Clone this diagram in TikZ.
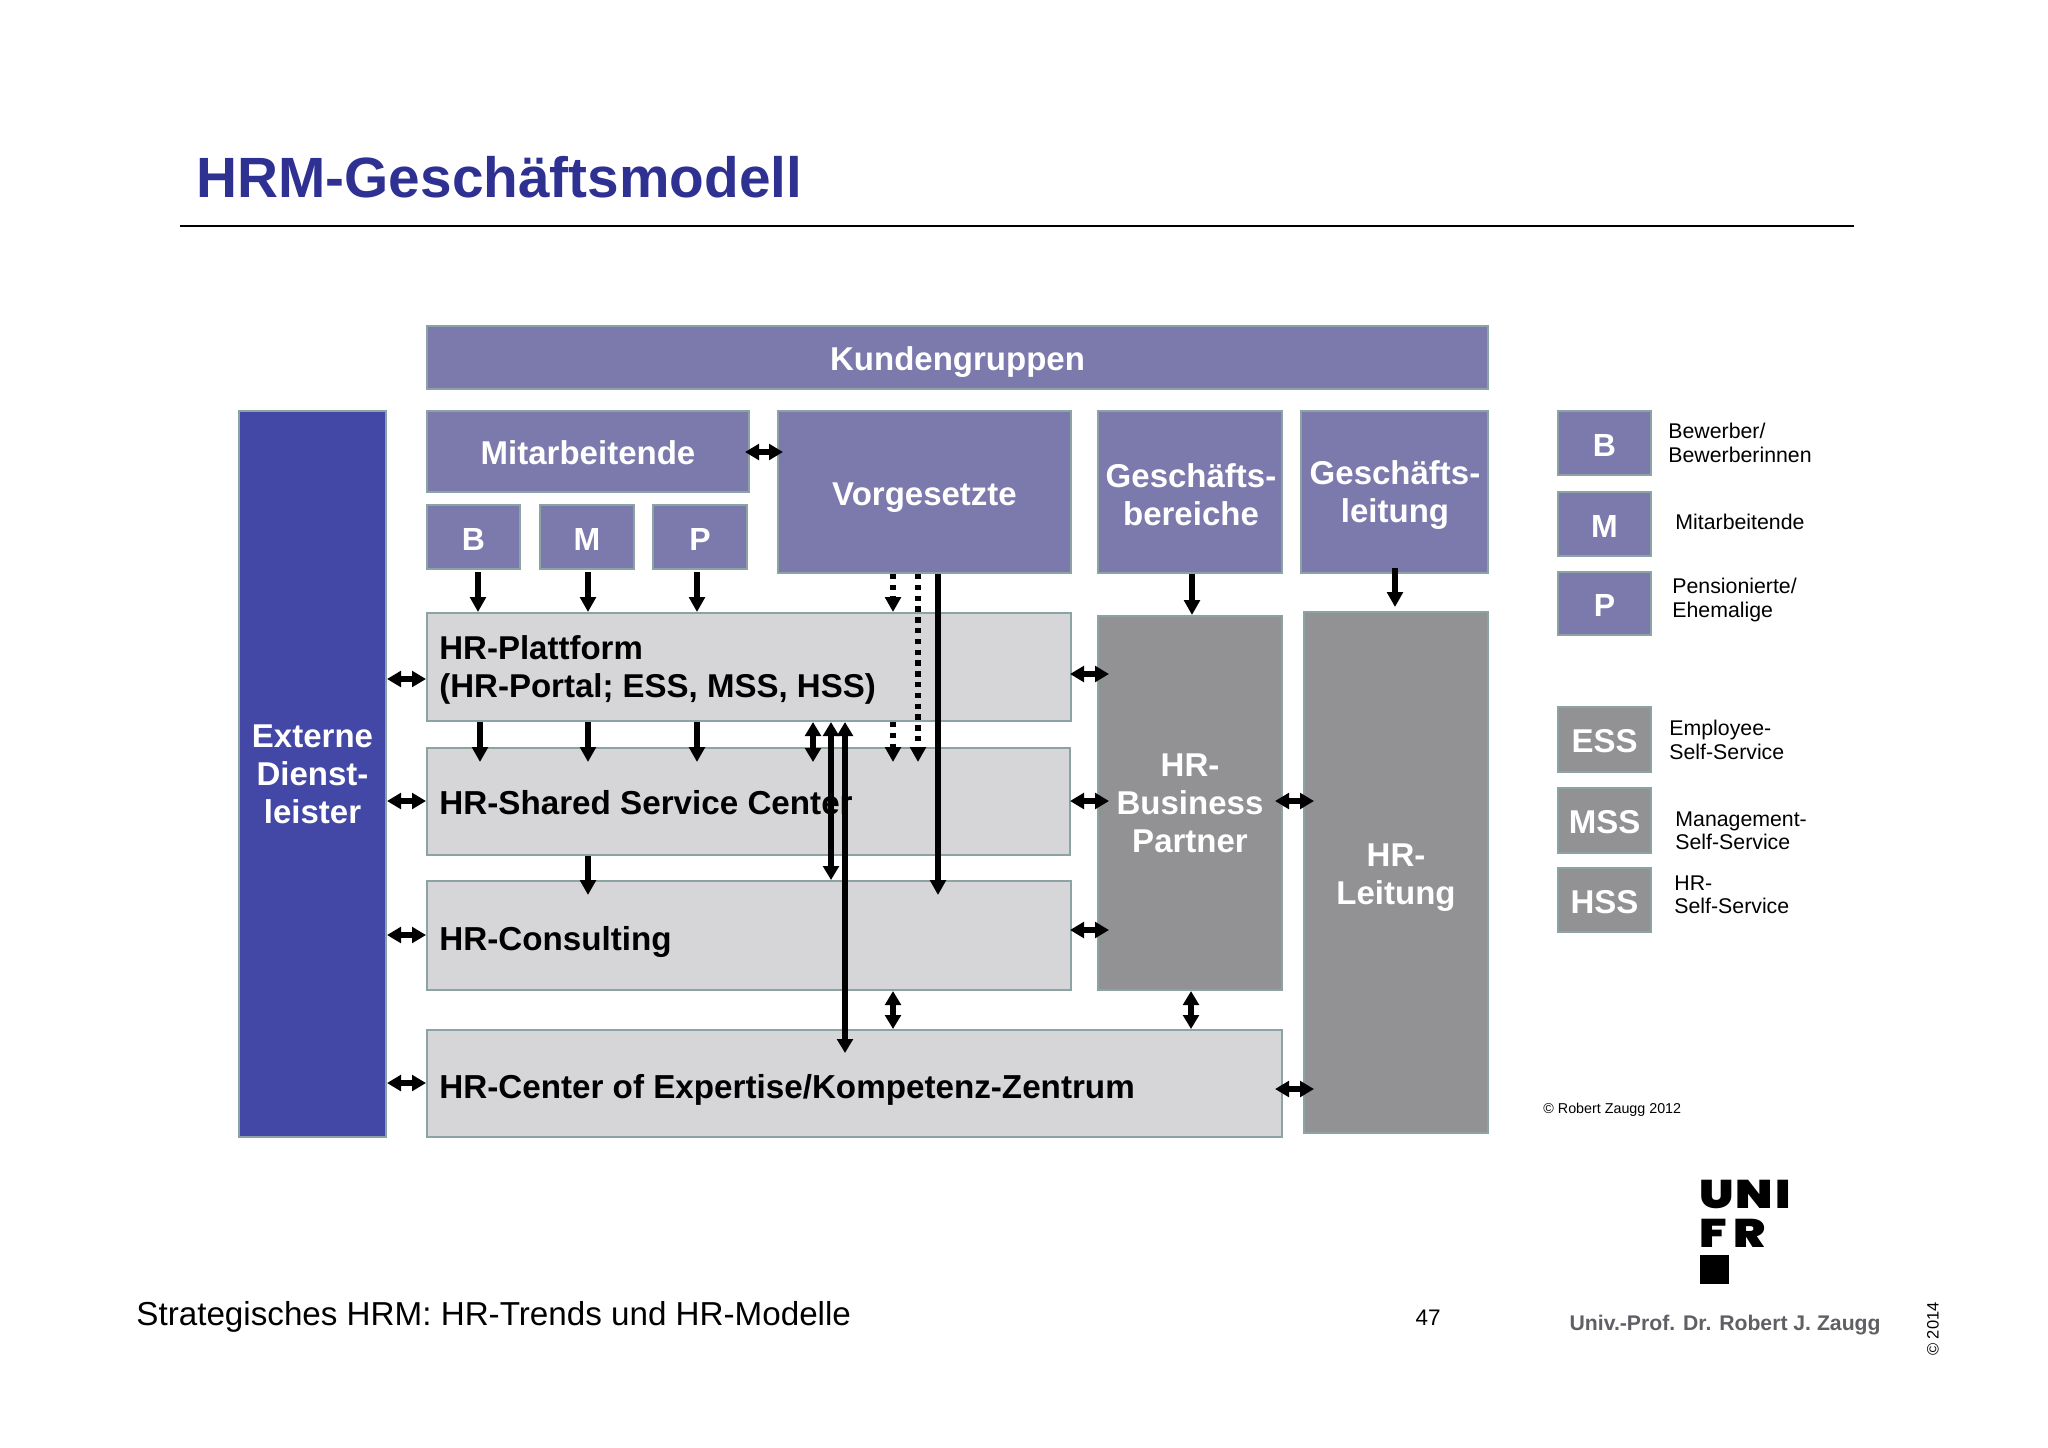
\documentclass[tikz,border=0pt]{standalone}
\usepackage{fontspec}
\setmainfont{Liberation Sans}
\usetikzlibrary{arrows.meta}
\newfontfamily\logofont[FakeStretch=1.2]{Poppins Black}
\definecolor{vio}{HTML}{7C79AC}
\definecolor{blu}{HTML}{4347A6}
\definecolor{lgr}{HTML}{D6D6D9}
\definecolor{dgr}{HTML}{929193}
\definecolor{edge}{HTML}{8CA3A3}
\definecolor{ttl}{HTML}{2E3192}
\definecolor{aut}{HTML}{5F5F64}
\newcommand{\px}[1]{\fontsize{\dimexpr#1pt*1/2\relax}{\dimexpr#1pt*23/40\relax}\selectfont}
\newcommand{\bx}[7]{\node[#6,minimum width={(#4-#2)*0.5pt-1.2pt},minimum height={(#5-#3)*0.5pt-1.2pt},anchor=center] (#1) at ({(#2+#4)/2},{(#3+#5)/2}) {#7};}
\tikzset{
 x=0.5pt,y=-0.5pt,
 base/.style={draw=edge,line width=1.2pt,inner sep=0pt,outer sep=0.6pt,align=center},
 sl/.style={text height=13.4pt,text depth=0pt},
 vbox/.style={base,fill=vio,text=white,font=\bfseries\px{33}},
 lbox/.style={base,fill=vio,text=white,font=\bfseries\px{32},sl},
 bluebox/.style={base,fill=blu,text=white,font=\bfseries\px{33}},
 gbox/.style={base,fill=lgr,text=black},
 dbox/.style={base,fill=dgr,text=white,font=\bfseries\px{33}},
 dsbox/.style={base,fill=dgr,text=white,font=\bfseries\px{33},sl},
 gt/.style={inner sep=0pt,anchor=base west,font=\bfseries\px{33.2}},
 wt/.style={inner sep=0pt,align=center,text=white,font=\bfseries\px{33}},
 lab/.style={inner sep=0pt,anchor=west,font=\px{21.3},align=left},
 one/.style={line width=2.7pt,-{Triangle[length=7.5pt,width=7.8pt]}},
 two/.style={line width=2.6pt,{Triangle[length=7pt,width=7.8pt]}-{Triangle[length=7pt,width=7.8pt]}},
 dot/.style={line width=2.6pt,dash pattern=on 2.7pt off 2.7pt,-{Triangle[length=7.5pt,width=7.8pt]}},
}
\begin{document}
\begin{tikzpicture}
\useasboundingbox (0,0) rectangle (2048,1447);
\node[inner sep=0pt,anchor=west,text=ttl,font=\bfseries\px{56.8}] (title) at (196,177) {HRM-Geschäftsmodell};
\coordinate (rl) at (180,226); \coordinate (rr) at (1854,226);
\draw[line width=1.3pt] (rl) -- (rr);

\bx{kund}{426}{325}{1489}{390}{vbox,sl}{Kundengruppen}
\bx{ext}{238}{410}{387}{1138}{bluebox}{Externe\\Dienst-\\leister}
\bx{mit}{426}{410}{750}{493}{vbox,sl}{Mitarbeitende}
\bx{b}{426}{504}{521}{570}{lbox}{B}
\bx{m}{539}{504}{635}{570}{lbox}{M}
\bx{p}{652}{504}{748}{570}{lbox}{P}
\bx{vor}{777}{410}{1072}{574}{vbox,sl}{Vorgesetzte}
\bx{ber}{1097}{410}{1283}{574}{vbox}{}
\bx{lei}{1300}{410}{1489}{574}{vbox}{}
\node[wt] (tber) at (1191,495) {Geschäfts-\\bereiche};
\node[wt] (tlei) at (1395,495) {Geschäfts-\\leitung};
\bx{plat}{426}{612}{1072}{722}{gbox}{}
\bx{shar}{426}{747}{1071}{856}{gbox}{}
\bx{cons}{426}{880}{1072}{991}{gbox}{}
\bx{coe}{426}{1029}{1283}{1138}{gbox}{}
\node[inner sep=0pt,anchor=west,align=left,font=\bfseries\px{33}] (tplat) at (439,670) {HR-Plattform\\(HR-Portal; ESS, MSS, HSS)};
\node[gt] (tshar) at (439,814) {HR-Shared Service Center};
\node[gt] (tcons) at (439,950) {HR-Consulting};
\node[gt] (tcoe) at (439,1098) {HR-Center of Expertise/Kompetenz-Zentrum};
\bx{bp}{1097}{615}{1283}{991}{dbox}{HR-\\Business\\Partner}
\bx{hrl}{1303}{611}{1489}{1134}{dbox}{}
\node[wt] (thrl) at (1396,878) {HR-\\Leitung};

\bx{lb}{1557}{410}{1652}{476}{lbox}{B}
\bx{lm}{1557}{491}{1652}{557}{lbox}{M}
\bx{lp}{1557}{571}{1652}{636}{lbox}{P}
\bx{less}{1557}{706}{1652}{773}{dsbox}{ESS}
\bx{lmss}{1557}{787}{1652}{854}{dsbox}{MSS}
\bx{lhss}{1557}{867}{1652}{933}{dsbox}{HSS}
\node[lab] (t1) at (1668,443) {Bewerber/\\[-0.5pt]Bewerberinnen};
\node[lab] (t2) at (1675,522) {Mitarbeitende};
\node[lab] (t3) at (1672,600) {Pensionierte/\\[-0.5pt]Ehemalige};
\node[lab] (t4) at (1669,740) {Employee-\\[-0.5pt]Self-Service};
\node[lab] (t5) at (1675,831) {Management-\\[-0.5pt]Self-Service};
\node[lab] (t6) at (1674,895) {HR-\\[-0.5pt]Self-Service};
\node[inner sep=0pt,anchor=west,font=\px{14.3}] (cr) at (1543,1110) {© Robert Zaugg 2012};

% vertical arrows
\foreach \n/\xx in {a/478,b/480,c/588,d/697,e/893,f/918,g/938,h/813,i/831,j/845,k/1191,l/1192,o/1395}
  \coordinate (x\n) at (\xx,0);
\draw[one] (xa |- b.south) ++(0,2) -- (xa |- plat.north);
\draw[one] (xc |- b.south) ++(0,2) -- (xc |- plat.north);
\draw[one] (xd |- b.south) ++(0,2) -- (xd |- plat.north);
\draw[one] (xb |- plat.south) -- ++(0,40);
\draw[one] (xc |- plat.south) -- ++(0,40);
\draw[one] (xd |- plat.south) -- ++(0,40);
\draw[one] (xc |- shar.south) -- ++(0,39);
\draw[dot] (xe |- vor.south) -- (xe |- plat.north);
\draw[dot] (xe |- plat.south) -- ++(0,40);
\draw[dot] (xf |- vor.south) -- ++(0,188);
\draw[one] (xg |- vor.south) -- ++(0,321);
\draw[two] (xh |- plat.south) -- ++(0,40);
\draw[two] (xi |- plat.south) -- (xi |- cons.north);
\draw[two] (xj |- plat.south) -- ++(0,331);
\draw[two] (xe |- cons.south) -- (xe |- coe.north);
\draw[two] (xk |- bp.south) -- (xk |- coe.north);
\draw[one] (xl |- ber.south) -- (xl |- bp.north);
\draw[one] (xo |- lei.south) ++(0,-6) -- ++(0,39);
% horizontal arrows
\foreach \n/\yy in {p/452,q/679,r/801,s/935,t/1083,u/674,v/930,w/1089}
  \coordinate (y\n) at (0,\yy);
\draw[two] (ext.east |- yq) -- (plat.west |- yq);
\draw[two] (ext.east |- yr) -- (shar.west |- yr);
\draw[two] (ext.east |- ys) -- (cons.west |- ys);
\draw[two] (ext.east |- yt) -- (coe.west |- yt);
\draw[two] (plat.east |- yu) ++(-2,0) -- ++(39,0);
\draw[two] (shar.east |- yr) ++(-1,0) -- ++(39,0);
\draw[two] (cons.east |- yv) ++(-2,0) -- ++(39,0);
\draw[two] (bp.east |- yr) ++(-8,0) -- ++(39,0);
\draw[two] (coe.east |- yw) ++(-8,0) -- ++(39,0);
\draw[two] (mit.east |- yp) ++(-5,0) -- ++(38,0);

% footer
\node[inner sep=0pt,anchor=west,font=\px{33.2}] (foot) at (136,1317) {Strategisches HRM: HR-Trends und HR-Modelle};
\node[inner sep=0pt,font=\px{22.5}] (num) at (1428,1318) {47};
\node[inner sep=0pt,anchor=east,text=aut,font=\bfseries\px{21.2}] (aut) at (1881,1325) {Univ.-Prof. Dr. Robert J. Zaugg};
\node[inner sep=0pt,rotate=90,font=\px{16.5}] (yr) at (1933,1329) {© 2014};
\node[inner sep=0pt,anchor=base west,font=\logofont\px{40}] (u1) at (1699,1208) {U\kern1pt N\kern1pt I};
\node[inner sep=0pt,anchor=base west,font=\logofont\px{40}] (u2) at (1699,1247) {F\kern3.2pt R};
\fill (1700,1255) rectangle (1729,1284);
\end{tikzpicture}
\end{document}
